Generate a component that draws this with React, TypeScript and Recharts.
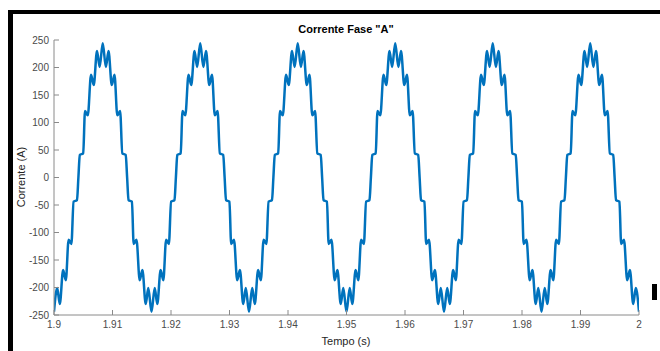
import { LineChart, Line, XAxis, YAxis } from "recharts";

// one 60 Hz cycle, starting at the trough (t = 1.9 + k/60)
const cycleOffsetMs = [
  0, 0.55, 0.99, 1.56, 2.02, 2.5, 2.97, 3.35, 3.93, 4.17, 4.41, 4.99, 5.3,
  5.78, 6.33, 6.79, 7.35, 7.8, 8.33, 8.87, 9.32, 9.88, 10.34, 10.82, 11.3,
  11.68, 12.26, 12.5, 12.74, 13.32, 13.62, 14.1, 14.65, 15.11, 15.68, 16.12,
];
const cycleCurrent = [
  -244, -201, -230, -168, -187, -113, -121, -44, -41, 0, 41, 44, 121, 113,
  187, 168, 230, 201, 244, 201, 230, 168, 187, 113, 121, 44, 41, 0, -41, -44,
  -121, -113, -187, -168, -230, -201,
];
const cycleStarts = [1.9, 1.916667, 1.933333, 1.95, 1.966667, 1.983333];
const endPoint = { t: 2, i: -244 };

const xTicks = [1.9, 1.91, 1.92, 1.93, 1.94, 1.95, 1.96, 1.97, 1.98, 1.99, 2];
const yTicks = [-250, -200, -150, -100, -50, 0, 50, 100, 150, 200, 250];

const data = [
  ...cycleStarts.flatMap((start) =>
    cycleOffsetMs.map((off, idx) => ({
      t: +(start + off / 1000).toFixed(6),
      i: cycleCurrent[idx],
    }))
  ),
  endPoint,
];

const font = "'Liberation Sans', Arial, Helvetica, sans-serif";
const axisGray = "#8a8a8a";
const tickText = { fill: "#4a4a4a", fontSize: 10, fontFamily: font };

export default function App() {
  return (
    <div
      style={{
        position: "absolute",
        left: 0,
        top: 0,
        width: 660,
        height: 351,
        background: "#ffffff",
        overflow: "hidden",
        fontFamily: font,
      }}
    >
      {/* black frame around the figure */}
      <div style={{ position: "absolute", left: 8, top: 10, width: 5, height: 341, background: "#000" }} />
      <div style={{ position: "absolute", left: 8, top: 10, width: 652, height: 4, background: "#000" }} />
      <div style={{ position: "absolute", left: 652, top: 284, width: 5, height: 16, background: "#000" }} />

      <LineChart
        width={660}
        height={351}
        data={data}
        margin={{ top: 40, right: 21, bottom: 0, left: 0 }}
        style={{ position: "absolute", left: 0, top: 0 }}
      >
        <XAxis
          xAxisId="main"
          dataKey="t"
          type="number"
          domain={[1.9, 2]}
          ticks={xTicks}
          allowDataOverflow
          height={36}
          tickSize={-5}
          tickMargin={11}
          tick={tickText}
          stroke={axisGray}
          interval={0}
        />
        <XAxis
          xAxisId="top"
          orientation="top"
          type="number"
          domain={[1.9, 2]}
          ticks={xTicks}
          allowDataOverflow
          height={0}
          tickSize={-5}
          tick={false}
          stroke={axisGray}
        />
        <YAxis
          yAxisId="main"
          type="number"
          domain={[-250, 250]}
          ticks={yTicks}
          allowDataOverflow
          width={54}
          tickSize={-5}
          tickMargin={10}
          tick={tickText}
          stroke={axisGray}
          interval={0}
        />
        <YAxis
          yAxisId="right"
          orientation="right"
          type="number"
          domain={[-250, 250]}
          ticks={yTicks}
          allowDataOverflow
          width={0}
          tickSize={-5}
          tick={false}
          stroke={axisGray}
        />
        <Line
          xAxisId="main"
          yAxisId="main"
          type="monotone"
          dataKey="i"
          stroke="#0072BD"
          strokeWidth={2.5}
          dot={false}
          isAnimationActive={false}
        />
      </LineChart>

      <div
        style={{
          position: "absolute",
          left: 246,
          top: 22,
          width: 200,
          textAlign: "center",
          fontSize: 11,
          fontWeight: "bold",
          lineHeight: "14px",
          color: "#000",
        }}
      >
        Corrente Fase "A"
      </div>
      <div
        style={{
          position: "absolute",
          left: 246,
          top: 334,
          width: 200,
          textAlign: "center",
          fontSize: 11,
          lineHeight: "14px",
          color: "#262626",
        }}
      >
        Tempo (s)
      </div>
      <div
        style={{
          position: "absolute",
          left: 21 - 60,
          top: 177 - 7,
          width: 120,
          textAlign: "center",
          fontSize: 11,
          lineHeight: "14px",
          color: "#262626",
          transform: "rotate(-90deg)",
        }}
      >
        Corrente (A)
      </div>
    </div>
  );
}
